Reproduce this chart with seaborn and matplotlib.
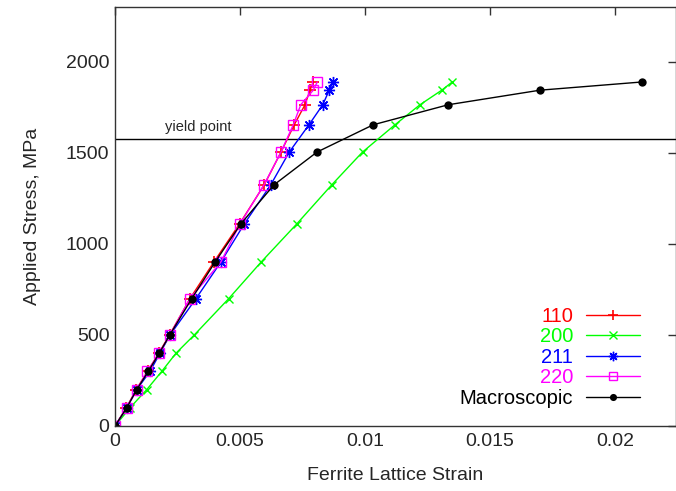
import numpy as np
import pandas as pd
import matplotlib
matplotlib.use("Agg")
import matplotlib.pyplot as plt
from matplotlib.ticker import FuncFormatter
import seaborn as sns

# ── data ─────────────────────────────────────────────────────────────────────
stress = [0, 100, 200, 300, 400, 500, 700, 900, 1110, 1325, 1505, 1655, 1765, 1845, 1890]

strain_110 = [0, 0.00045, 0.00085, 0.0013, 0.00175, 0.00218, 0.0030, 0.00395, 0.00498,
              0.00597, 0.00664, 0.00717, 0.0076, 0.0078, 0.00793]
strain_200 = [0, 0.0006, 0.00127, 0.00187, 0.00244, 0.00317, 0.00455, 0.00584, 0.00727,
              0.00867, 0.0099, 0.0112, 0.0122, 0.01307, 0.01349]
strain_211 = [0, 0.00047, 0.00087, 0.0014, 0.0018, 0.0022, 0.00324, 0.00423, 0.00517,
              0.00623, 0.00697, 0.00776, 0.00831, 0.00857, 0.00873]
strain_220 = [0, 0.00047, 0.00087, 0.00129, 0.00177, 0.00219, 0.0030, 0.00423, 0.0050,
              0.00596, 0.00664, 0.00713, 0.00743, 0.00793, 0.00809]
strain_macro = [0, 0.00047, 0.00087, 0.00133, 0.00177, 0.00219, 0.00307, 0.0040, 0.00503,
                0.00636, 0.00808, 0.01033, 0.01333, 0.0170, 0.02107]

yield_stress = 1577

series_names = ["110", "200", "211", "220", "Macroscopic"]
series_strain = [strain_110, strain_200, strain_211, strain_220, strain_macro]
series_colors = ["#ff0000", "#00ff00", "#0000ff", "#ff00ff", "#000000"]

# ── style ────────────────────────────────────────────────────────────────────
sns.set_style("white")
plt.rcParams["font.family"] = ["Liberation Sans", "DejaVu Sans"]

fig = plt.figure(figsize=(6.76, 4.91), dpi=100)
ax = fig.add_axes([115 / 676, 1 - 426 / 491, 561 / 676, 419 / 491])

markers = [
    dict(marker="+", markersize=8, markeredgewidth=1.2),
    dict(marker="x", markersize=6, markeredgewidth=1.0),
    dict(marker=(8, 2, 0), markersize=8, markeredgewidth=1.0),
    dict(marker="s", markersize=7, markerfacecolor="none", markeredgewidth=1.0),
    dict(marker="o", markersize=6, markeredgewidth=0),
]

for name, xs, col, mk in zip(series_names, series_strain, series_colors, markers):
    df = pd.DataFrame({"strain": xs, "stress": stress})
    sns.lineplot(data=df, x="strain", y="stress", ax=ax, color=col, linewidth=1.0,
                 sort=False, estimator=None, label=name, markeredgecolor=col, **mk)

ax.axhline(yield_stress, color="black", linewidth=1.0, zorder=1)
ax.text(0.002, yield_stress + 25, "yield point", fontsize=10.5, ha="left", va="bottom")

ax.set_xlim(0, 0.02244)
ax.set_ylim(0, 2302)
ax.set_xticks([0, 0.005, 0.01, 0.015, 0.02])
ax.set_yticks([0, 500, 1000, 1500, 2000])
ax.xaxis.set_major_formatter(FuncFormatter(lambda v, p: "%g" % v))
ax.tick_params(direction="in", length=6, width=1, top=True, right=True,
               labelsize=14, color="#333333")
ax.tick_params(axis="y", pad=4)
ax.tick_params(axis="x", pad=5)
for s in ax.spines.values():
    s.set_linewidth(1.0)
    s.set_color("#333333")

ax.set_xlabel("Ferrite Lattice Strain", fontsize=14, labelpad=12)
ax.set_ylabel("Applied Stress, MPa", fontsize=14, labelpad=18)

leg = ax.legend(loc="lower right", bbox_to_anchor=(0.9545, 0.02), frameon=False,
                markerfirst=False, fontsize=14.5, handlelength=2.7, handletextpad=0.65,
                labelspacing=0.07, borderpad=0, labelcolor="linecolor")
for h in leg.legend_handles:
    h.set_markersize(h.get_markersize() * 0.85)

fig.savefig("out.png", dpi=100)
